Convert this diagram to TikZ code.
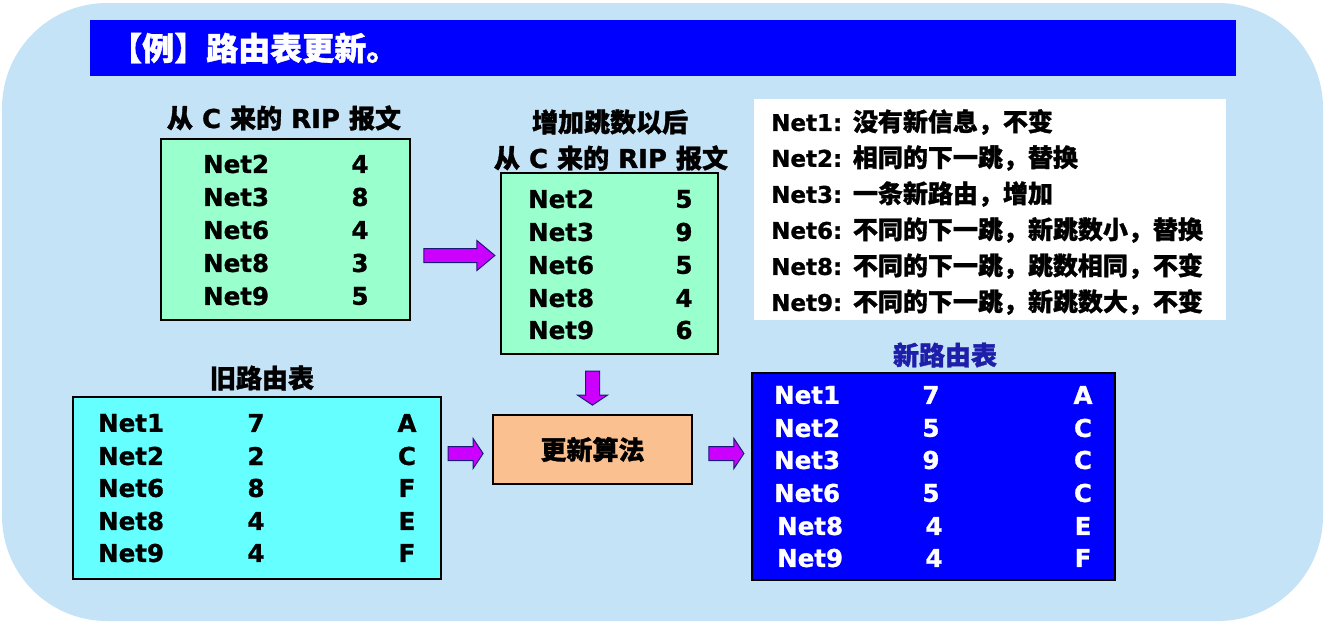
\documentclass[tikz,border=0pt]{standalone}
\usepackage{fontspec}
\setmainfont{DejaVu Sans}[BoldFeatures={FakeBold=1.1}]
\newfontfamily\cjk{Noto Sans CJK SC}[BoldFeatures={FakeBold=1.2}]
\usetikzlibrary{calc}

\definecolor{panel}{RGB}{197,227,247}
\definecolor{titleblue}{RGB}{0,0,255}
\definecolor{mint}{RGB}{153,255,204}
\definecolor{aqua}{RGB}{102,255,255}
\definecolor{peach}{RGB}{250,192,144}
\definecolor{violet}{RGB}{204,0,255}
\definecolor{navy}{RGB}{25,25,120}
\definecolor{labelblue}{RGB}{30,30,170}

\tikzset{
  tablebox/.style={draw=black, line width=1.8pt, inner sep=0, rectangle},
  cell/.style={inner sep=0, font=\fontsize{24.5}{28}\selectfont\bfseries},
  caption/.style={inner sep=0, font=\fontsize{26}{30}\selectfont\bfseries},
  note/.style={inner sep=0, anchor=west, font=\fontsize{23}{28}\selectfont\bfseries},
  blk/.style={fill=violet, draw=navy, line width=1pt, line join=miter},
}

% block arrow: origin, length, head length, rotation
\newcommand\blockarrow[4]{%
  \begin{scope}[shift={#1}, rotate=#4]
    \draw[blk] (0,-7) -- (#2-#3,-7) -- (#2-#3,-15) -- (#2,0)
      -- (#2-#3,15) -- (#2-#3,7) -- (0,7) -- cycle;
  \end{scope}}

\newcommand\zh[1]{{\cjk\fontsize{25}{30}\selectfont\bfseries #1}}

\begin{document}
\begin{tikzpicture}[x=1pt, y=-1pt]
  \useasboundingbox (0,0) rectangle (1326,624);

  % rounded panel
  \fill[panel, rounded corners=105pt] (2,3) rectangle (1323,621);

  % title bar
  \node (title) [fill=titleblue, minimum width=1146pt, minimum height=56pt, inner sep=0] at (663,48) {};
  \node (titletext) [anchor=west, inner sep=0, text=white,
    font=\cjk\fontsize{32}{36}\selectfont\bfseries] at (110,48) {【例】路由表更新。};

  % RIP message from C
  \node (ripcap) [caption] at (284,118) {{\cjk 从} C {\cjk 来的} RIP {\cjk 报文}};
  \node (rip) [tablebox, fill=mint, minimum width=249pt, minimum height=181pt] at (285.5,229.5) {};
  \foreach \n/\d/\y in {Net2/4/164, Net3/8/197, Net6/4/230, Net8/3/263, Net9/5/296} {
    \node (rip-\n) [cell, anchor=west] at (203,\y) {\n};
    \node (rip-\n-d) [cell] at (360,\y) {\d};
  }

  % the same message after adding one hop
  \node (inccap1) [caption] at (610,122) {{\cjk 增加跳数以后}};
  \node (inccap2) [caption] at (611,158) {{\cjk 从} C {\cjk 来的} RIP {\cjk 报文}};
  \node (inc) [tablebox, fill=mint, minimum width=217pt, minimum height=181pt] at (609.5,263.5) {};
  \foreach \n/\d/\y in {Net2/5/199, Net3/9/232, Net6/5/265, Net8/4/298, Net9/6/330} {
    \node (inc-\n) [cell, anchor=west] at (528,\y) {\n};
    \node (inc-\n-d) [cell] at (684,\y) {\d};
  }

  % explanations
  \node (notes) [fill=white, minimum width=472pt, minimum height=221pt, inner sep=0] at (990,209.5) {};
  \node (n1) [note] at (771,122) {Net1: \zh{没有新信息，不变}};
  \node (n2) [note] at (771,158) {Net2: \zh{相同的下一跳，替换}};
  \node (n3) [note] at (771,194) {Net3: \zh{一条新路由，增加}};
  \node (n4) [note] at (771,230) {Net6: \zh{不同的下一跳，新跳数小，替换}};
  \node (n5) [note] at (771,266) {Net8: \zh{不同的下一跳，跳数相同，不变}};
  \node (n6) [note] at (771,302) {Net9: \zh{不同的下一跳，新跳数大，不变}};

  % old routing table
  \node (oldcap) [caption] at (262,378) {{\cjk 旧路由表}};
  \node (old) [tablebox, fill=aqua, minimum width=368pt, minimum height=182pt] at (257,488) {};
  \foreach \n/\d/\h/\y in {Net1/7/A/423, Net2/2/C/456, Net6/8/F/488, Net8/4/E/521, Net9/4/F/553} {
    \node (old-\n) [cell, anchor=west] at (98,\y) {\n};
    \node (old-\n-d) [cell] at (256,\y) {\d};
    \node (old-\n-h) [cell] at (407,\y) {\h};
  }

  % update algorithm
  \node (algo) [tablebox, fill=peach, minimum width=199pt, minimum height=69pt,
    font=\cjk\fontsize{26}{30}\selectfont\bfseries] at (592.5,449.5) {更新算法};

  % new routing table
  \node (newcap) [caption, text=labelblue] at (945,355) {{\cjk 新路由表}};
  \node (new) [tablebox, fill=titleblue, minimum width=363pt, minimum height=207pt] at (933.5,476.5) {};
  \foreach \n/\d/\h/\y/\dx in {Net1/7/A/395/0, Net2/5/C/428/0, Net3/9/C/460/0, Net6/5/C/493/0, Net8/4/E/526/3, Net9/4/F/558/3} {
    \node (new-\n) [cell, anchor=west, text=white] at (774+\dx,\y) {\n};
    \node (new-\n-d) [cell, text=white] at (931+\dx,\y) {\d};
    \node (new-\n-h) [cell, text=white] at (1083,\y) {\h};
  }

  % block arrows between the boxes
  \blockarrow{($(rip.east)+(13,26)$)}{71}{18}{0}
  \blockarrow{($(algo.north)+(0,-43)$)}{34}{10}{-90}
  \blockarrow{($(algo.west)+(-44,4)$)}{35}{10}{0}
  \blockarrow{($(algo.east)+(16,4)$)}{35}{10}{0}
\end{tikzpicture}
\end{document}
